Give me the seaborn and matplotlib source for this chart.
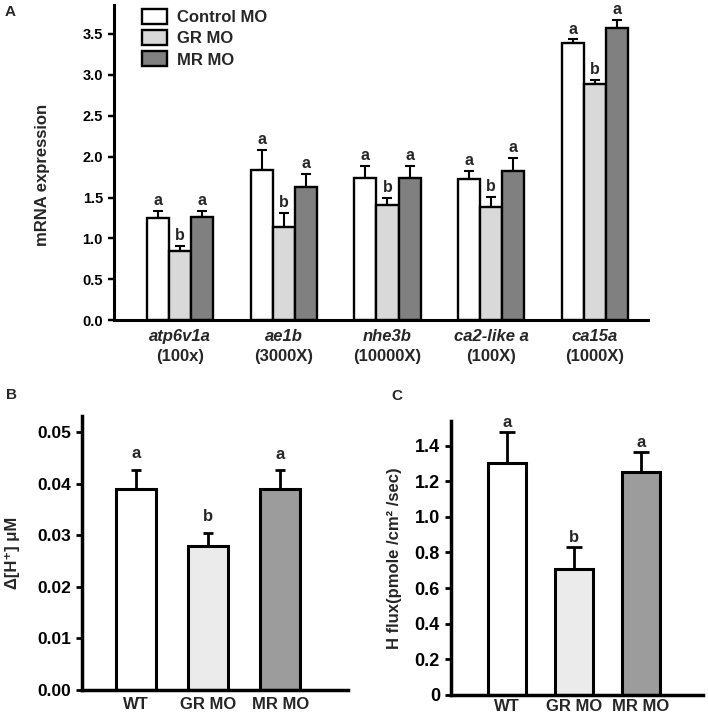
import numpy as np
import pandas as pd
import matplotlib
matplotlib.use("Agg")
import matplotlib.pyplot as plt
from matplotlib.transforms import blended_transform_factory
import seaborn as sns

# --- panel A data ---
genes = ["atp6v1a", "ae1b", "nhe3b", "ca2-like a", "ca15a"]
folds = ["(100x)", "(3000X)", "(10000X)", "(100X)", "(1000X)"]
groups_a = ["Control MO", "GR MO", "MR MO"]
control_mo = [1.25, 1.84, 1.74, 1.73, 3.39]
control_err = [0.09, 0.24, 0.15, 0.10, 0.04]
gr_mo = [0.85, 1.14, 1.41, 1.39, 2.89]
gr_err = [0.06, 0.17, 0.09, 0.12, 0.05]
mr_mo = [1.26, 1.63, 1.74, 1.83, 3.57]
mr_err = [0.08, 0.16, 0.15, 0.155, 0.10]
letters_a = [["a"] * 5, ["b"] * 5, ["a"] * 5]
colors_a = ["#ffffff", "#d9d9d9", "#808080"]

# --- panel B / C data ---
groups_bc = ["WT", "GR MO", "MR MO"]
dh = [0.0390, 0.0280, 0.0390]
dh_err = [0.0037, 0.0025, 0.0036]
hflux = [1.30, 0.708, 1.252]
hflux_err = [0.178, 0.124, 0.113]
letters_bc = ["a", "b", "a"]
colors_bc = ["#ffffff", "#ebebeb", "#9c9c9c"]

sns.set_style("white")
plt.rcParams["font.family"] = ["Liberation Sans", "DejaVu Sans"]
plt.rcParams["font.weight"] = "bold"


def style_axes(ax, lw, fs):
    sns.despine(ax=ax)
    for s in ["left", "bottom"]:
        ax.spines[s].set_linewidth(lw)
        ax.spines[s].set_color("black")
    ax.tick_params(axis="y", direction="out", length=4.5, width=lw * 0.8,
                   labelsize=fs, left=True, colors="black")
    ax.tick_params(axis="x", length=0, labelsize=12)
    for t in ax.get_yticklabels():
        t.set_fontweight("bold")


def add_errors(ax, containers, errs, letters, lw, cap, fs, off):
    for bars, err, lab in zip(containers, errs, letters):
        xs = [b.get_x() + b.get_width() / 2 for b in bars]
        tops = [b.get_height() for b in bars]
        ax.errorbar(xs, tops, yerr=[np.zeros(len(err)), err], fmt="none",
                    ecolor="black", elinewidth=lw, capsize=cap, capthick=lw,
                    zorder=1)
        for x, t, e, l in zip(xs, tops, err, lab):
            ax.annotate(l, (x, t + e), xytext=(0, off), textcoords="offset points",
                        ha="center", va="bottom", fontsize=fs, fontweight="bold")


fig = plt.figure(figsize=(7.08, 7.2), dpi=100)

# ---------------- panel A ----------------
axA = fig.add_axes([0.161, 0.555, 0.754, 0.438])
dfA = pd.DataFrame({
    "gene": genes * 3,
    "value": control_mo + gr_mo + mr_mo,
    "group": sum([[g] * len(genes) for g in groups_a], []),
})
sns.barplot(data=dfA, x="gene", y="value", hue="group", hue_order=groups_a,
            palette=colors_a, width=0.64, edgecolor="black", linewidth=1.7,
            errorbar=None, ax=axA, zorder=2)
add_errors(axA, axA.containers, [control_err, gr_err, mr_err], letters_a,
           1.5, 3.6, 11.5, 2)
axA.set_xlim(-0.636, 4.51)
axA.set_ylim(0, 3.85)
axA.set_yticks(np.arange(0, 3.6, 0.5))
axA.set_yticklabels([f"{v:.1f}" for v in np.arange(0, 3.6, 0.5)])
style_axes(axA, 2.2, 10.5)
axA.set_xlabel("")
axA.set_ylabel("mRNA expression", fontsize=12, fontweight="bold")
axA.yaxis.set_label_coords(-0.12, 0.46)
axA.set_xticks(range(len(genes)))
axA.set_xticklabels(genes, fontstyle="italic", fontweight="bold", fontsize=12)
axA.tick_params(axis="x", pad=6)
trA = blended_transform_factory(axA.transData, axA.transAxes)
for i, f in enumerate(folds):
    axA.annotate(f, (i, 0), xycoords=trA, xytext=(0, -26),
                 textcoords="offset points", ha="center", va="center",
                 fontsize=12, fontweight="bold")
leg = axA.legend(loc="upper left", bbox_to_anchor=(0.025, 1.035), frameon=False,
                 fontsize=12, handlelength=1.45, handleheight=1.0,
                 labelspacing=0.3, handletextpad=0.6)
for t in leg.get_texts():
    t.set_fontweight("bold")
fig.text(10.5 / 708, 1 - 12.5 / 720, "A", fontsize=11, fontweight="bold",
         ha="center", va="center")

# ---------------- panel B ----------------
axB = fig.add_axes([0.1158, 0.0417, 0.3757, 0.381])
sns.barplot(x=groups_bc, y=dh, hue=groups_bc, palette=colors_bc, legend=False,
            width=0.55, edgecolor="black", linewidth=2.2, ax=axB, zorder=2)
add_errors(axB, [[c.patches[0]] for c in axB.containers],
           [[e] for e in dh_err], [[l] for l in letters_bc], 2.0, 3.4, 12, 6)
axB.set_xlim(-0.75, 2.94)
axB.set_ylim(0, 0.0532)
axB.set_yticks(np.arange(0, 0.051, 0.01))
axB.set_yticklabels([f"{v:.2f}" for v in np.arange(0, 0.051, 0.01)])
style_axes(axB, 2.5, 12.5)
axB.set_xticks(range(3))
axB.set_xticklabels(groups_bc, fontweight="bold", fontsize=12)
axB.tick_params(axis="x", pad=5)
axB.set_ylabel("Δ[H⁺] μM", fontsize=12, fontweight="bold")
axB.yaxis.set_label_coords(-0.233, 0.5)
fig.text(11.5 / 708, 1 - 395 / 720, "B", fontsize=11, fontweight="bold",
         ha="center", va="center")

# ---------------- panel C ----------------
axC = fig.add_axes([0.637, 0.035, 0.356, 0.3807])
sns.barplot(x=groups_bc, y=hflux, hue=groups_bc, palette=colors_bc, legend=False,
            width=0.57, edgecolor="black", linewidth=2.2, ax=axC, zorder=2)
add_errors(axC, [[c.patches[0]] for c in axC.containers],
           [[e] for e in hflux_err], [[l] for l in letters_bc], 2.0, 5.5, 12, 1)
axC.set_xlim(-0.84, 2.93)
axC.set_ylim(0, 1.54)
axC.set_yticks(np.arange(0, 1.41, 0.2))
axC.set_yticklabels(["0"] + [f"{v:.1f}" for v in np.arange(0.2, 1.41, 0.2)])
style_axes(axC, 2.5, 13)
axC.set_xticks(range(3))
axC.set_xticklabels(groups_bc, fontweight="bold", fontsize=12)
axC.tick_params(axis="x", pad=3)
axC.set_ylabel("H flux(pmole /cm² /sec)", fontsize=12, fontweight="bold")
axC.yaxis.set_label_coords(-0.194, 0.5)
fig.text(397 / 708, 1 - 396 / 720, "C", fontsize=11, fontweight="bold",
         ha="center", va="center")

fig.savefig("out.png", dpi=100)
